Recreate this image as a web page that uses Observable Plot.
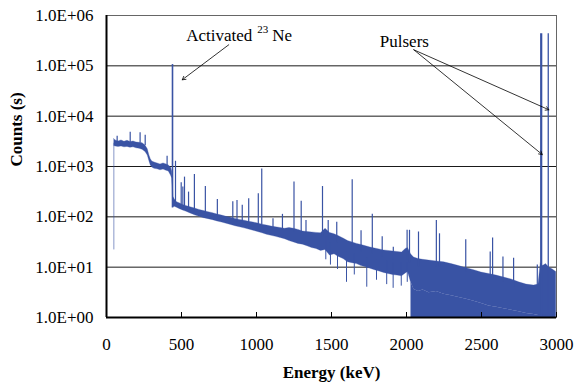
<!DOCTYPE html>
<html><head><meta charset="utf-8">
<script src="https://cdn.jsdelivr.net/npm/d3@7"></script>
<script src="https://cdn.jsdelivr.net/npm/@observablehq/plot@0.6"></script>
<style>
html,body{margin:0;padding:0;background:#fff;}
#chart svg{display:block;}
#chart svg text{font-family:'Liberation Serif','Times New Roman',serif;}
</style></head><body><div id="chart"></div>
<script>
// Continuum band of the spectrum: energy (keV), upper and lower envelope (counts)
const bandE = [52,60,80,100,120,140,160,180,200,220,
  240,260,275,285,295,305,320,340,360,380,
  400,415,430,438,446,455,470,490,510,530,
  560,590,620,650,680,710,740,770,800,830,
  860,890,920,950,980,1010,1040,1070,1100,1130,
  1160,1190,1220,1250,1280,1310,1340,1370,1400,1430,
  1460,1490,1520,1550,1580,1610,1640,1670,1700,1730,
  1760,1790,1820,1850,1880,1910,1940,1970,1995,2010,
  2030,2050,2080,2110,2150,2200,2250,2300,2350,2400,
  2450,2500,2550,2600,2650,2700,2750,2800,2850,2880,
  2895,2910,2930,2950,2975,2998];
const bandHi = [3500,3300,3150,3300,3100,3250,3050,3150,3000,2950,
  2900,2600,2200,1700,1400,1250,1200,1150,1100,1150,
  1100,1050,950,800,250,220,195,185,172,165,
  155,146,137,130,124,118,111,106,100,96,
  91,87,84,80,77,74,70,67,64,62,
  60,58,60,58,55,51,50,49,48,47,
  58,48,45,41,37,33,31,29,27.5,26,
  24.5,23.5,22.5,21.5,21,20.5,20,19.5,23,24,
  18,15.5,14.5,14,13.5,13,12.5,11.5,10.5,9.5,
  8.7,7.8,7.3,6.8,6.2,5.7,5,4.5,4.3,4.5,
  12,10.5,11.5,9.8,9,8];
const bandLo = [2550,2500,2450,2500,2400,2450,2350,2400,2300,2250,
  2150,1950,1650,1300,1050,950,900,880,840,870,
  820,800,660,580,155,158,152,142,134,127,
  117,107,100,94,90,86,81,77,73,69,
  65,62,59,56,53,50,47,44,42,40,
  38,36,33,31,29,28,26,24,23,21,
  22,17,18,16,14.5,12.5,12,11.5,10.5,10,
  9.3,8.7,8.2,7.7,7.3,7,6.8,6.6,7.5,8,
  5,3.6,3.3,3.5,3.1,3.3,2.9,2.7,2.5,2.3,
  2.1,1.9,1.7,1.6,1.5,1.4,1.3,1.2,1.15,1.1,
  1.1,1.1,1.1,1.1,1.1,1.1];

// Downward dips below the band: energy, lowest and highest count
const dipE = [1462,1493,1540,1600,1652,1735,1800,1868,1911,1965,2005];
const dipLow = [14,11,9,5,7,4,5.5,4.5,3.8,4.2,5];
const dipHigh = [40,30,25,20,18,15,14,13,12,12,12];

// Minor peaks: energy, top and base (counts)
const peakE = [71,158,224,258,404,460,498,509,520,547,
  586,659,739,842,870,905,948,1012,1035,1110,
  1173,1250,1298,1330,1440,1478,1535,1638,1697,1772,
  1838,1912,2004,2020,2080,2199,2220,2395,2558,2574,
  2643,2714,2872];
const peakTop = [4000,4800,4700,4200,1600,1270,475,390,615,310,
  690,400,220,200,210,170,228,288,890,92,
  112,490,205,85,400,85,78,545,53,112,
  40,25,54,54,50,85,46,35,20,38,
  16,15,11];
const peakBase = [3000,3000,2900,2600,900,180,160,160,150,140,
  130,115,100,85,80,78,75,70,68,60,
  55,50,48,45,40,35,30,25,20,18,
  16,14,14,12,10,10,10,8,6,6,
  5,4,4];

// Strong lines: 23Ne line and the two pulsers
const lineE = [440, 2898, 2945];
const lineTop = [106000, 433000, 433000];
const lineBase = [150, 1, 1];

// Low-energy threshold edge
const edgeE = [49];
const edgeLo = [22];
const edgeHi = [2900];

// Axes
const xTicks = [0,500,1000,1500,2000,2500,3000];
const yTicks = [1,10,100,1000,10000,100000,1000000];
const yTickLabels = ["1.0E+00","1.0E+01","1.0E+02","1.0E+03","1.0E+04","1.0E+05","1.0E+06"];
const gridY = [10,100,1000,10000,100000];

// Annotations
const noteText = ["Activated", "Ne", "Pulsers"];
const noteE = [531, 1105, 1822];
const noteCount = [3.05e5, 3.05e5, 2.35e5];
const supText = ["23"];
const supE = [1005];
const supCount = [4.4e5];
const arrowFromE = [815, 2049, 2049];
const arrowFromC = [2.62e5, 2.08e5, 2.08e5];
const arrowToE = [505, 2949, 2905];
const arrowToC = [5.28e4, 1.34e4, 1730];

const blue = "#3953a4";
const band = bandE.map((e, i) => ({e, hi: bandHi[i], lo: bandLo[i]}));
const floor = band.filter(d => d.e >= 2030);
const dips = dipE.map((e, i) => ({e, lo: dipLow[i], hi: dipHigh[i]}));
const peaks = peakE.map((e, i) => ({e, top: peakTop[i], base: peakBase[i]}));
const lines = lineE.map((e, i) => ({e, top: lineTop[i], base: lineBase[i], i}));
const edge = edgeE.map((e, i) => ({e, lo: edgeLo[i], hi: edgeHi[i]}));
const notes = noteText.map((t, i) => ({t, e: noteE[i], c: noteCount[i]}));
const sups = supText.map((t, i) => ({t, e: supE[i], c: supCount[i]}));
const arrows = arrowFromE.map((e, i) => ({x1: e, y1: arrowFromC[i], x2: arrowToE[i], y2: arrowToC[i]}));
const lineWidths = [1.6, 2.2, 1.3];
const serif = "'Liberation Serif', 'Times New Roman', serif";

const chart = Plot.plot({
  width: 574,
  height: 383,
  marginLeft: 106,
  marginRight: 18,
  marginTop: 15,
  marginBottom: 66,
  x: {domain: [0, 3000]},
  y: {type: "log", domain: [1, 1e6]},
  style: {fontFamily: serif, fontSize: "17px", color: "#000", background: "#fff"},
  marks: [
    Plot.ruleY(gridY, {stroke: "#1a1a1a", strokeWidth: 1}),
    Plot.frame({stroke: "#666", strokeWidth: 1}),
    Plot.areaY(floor, {x: "e", y1: 1, y2: "lo", fill: blue}),
    Plot.areaY(band, {x: "e", y1: "lo", y2: "hi", fill: blue, stroke: blue, strokeWidth: 0.3}),
    Plot.ruleX(dips, {x: "e", y1: "lo", y2: "hi", stroke: blue, strokeWidth: 1}),
    Plot.ruleX(edge, {x: "e", y1: "lo", y2: "hi", stroke: blue, strokeOpacity: 0.6, strokeWidth: 1}),
    Plot.ruleX(peaks, {x: "e", y1: "base", y2: "top", stroke: blue, strokeWidth: 1.2}),
    Plot.ruleX(lines, {x: "e", y1: "base", y2: "top", stroke: blue, strokeWidth: d => lineWidths[d.i]}),
    Plot.ruleX([0], {stroke: "#000", strokeWidth: 2}),
    Plot.ruleY([1], {stroke: "#000", strokeWidth: 2}),
    Plot.ruleX(xTicks, {y1: 1, y2: 1, insetTop: -5, stroke: "#000", strokeWidth: 1}),
    Plot.axisY(yTicks, {tickSize: 0, tickPadding: 13, fontFamily: serif, tickFormat: d => yTickLabels[Math.round(Math.log10(d))], label: null}),
    Plot.axisX(xTicks, {tickSize: 0, tickPadding: 20, fontFamily: serif, tickFormat: d => String(d), label: null}),
    Plot.text(["Energy (keV)"], {frameAnchor: "bottom", dy: 60, fontFamily: serif, fontWeight: "bold", fontSize: 17, lineAnchor: "bottom"}),
    Plot.text(["Counts (s)"], {frameAnchor: "left", dx: -90, rotate: -90, fontFamily: serif, fontWeight: "bold", fontSize: 17}),
    Plot.text(notes, {x: "e", y: "c", text: "t", textAnchor: "start", lineAnchor: "bottom", fontFamily: serif, fontSize: 17}),
    Plot.text(sups, {x: "e", y: "c", text: "t", textAnchor: "start", lineAnchor: "bottom", fontFamily: serif, fontSize: 11}),
    Plot.arrow(arrows, {x1: "x1", y1: "y1", x2: "x2", y2: "y2", stroke: "#000", strokeWidth: 0.8, headLength: 7})
  ]
});
document.getElementById("chart").appendChild(chart);
</script>
</body></html>
